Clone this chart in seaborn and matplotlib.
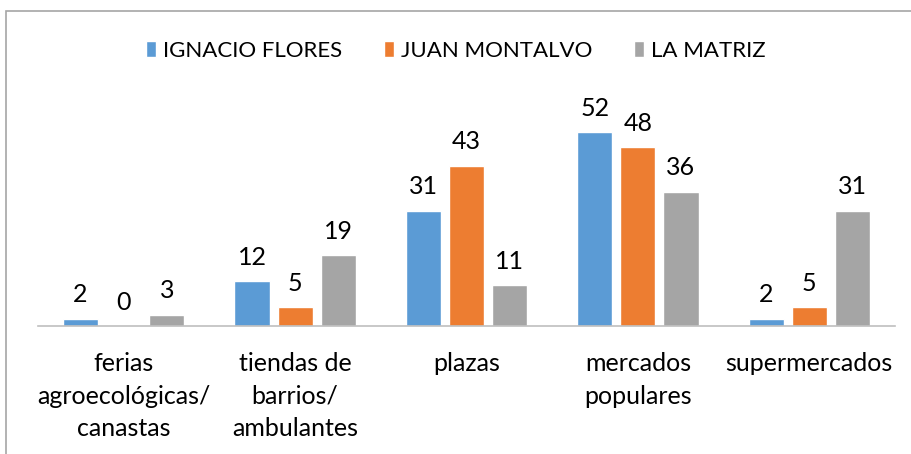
import pandas as pd
import matplotlib
matplotlib.use("Agg")
import matplotlib.pyplot as plt
import seaborn as sns
from matplotlib.patches import Rectangle

# datos
categorias = ["ferias\nagroecológicas/\ncanastas", "tiendas de\nbarrios/\nambulantes",
              "plazas", "mercados\npopulares", "supermercados"]
ignacio_flores = [2, 12, 31, 52, 2]
juan_montalvo = [0, 5, 43, 48, 5]
la_matriz = [3, 19, 11, 36, 31]
series = ["IGNACIO FLORES", "JUAN MONTALVO", "LA MATRIZ"]
colores = ["#5B9BD5", "#ED7D31", "#A5A5A5"]

df = pd.DataFrame({
    "categoria": categorias * 3,
    "serie": [s for s in series for _ in categorias],
    "valor": ignacio_flores + juan_montalvo + la_matriz,
})

sns.set_theme(style="white")
plt.rcParams['font.family'] = ['Lato', 'DejaVu Sans']

fig = plt.figure(figsize=(9.12, 4.54), dpi=100)
ax = fig.add_axes([38 / 912, 1 - 326 / 454, (895 - 38) / 912, (326 - 95) / 454])

sns.barplot(data=df, x="categoria", y="valor", hue="serie", palette=colores,
            width=0.754, gap=0.186, ax=ax, saturation=1)

for cont in ax.containers:
    ax.bar_label(cont, padding=9, fontsize=18, color="#000000")

ax.set_ylim(0, 62)
ax.set_xlabel("")
ax.set_ylabel("")
ax.set_yticks([])
ax.tick_params(axis="x", length=0, pad=19, labelsize=18, labelcolor="#000000")
for lab in ax.get_xticklabels():
    lab.set_linespacing(1.5)
for s in ["top", "right", "left"]:
    ax.spines[s].set_visible(False)
ax.spines["bottom"].set_color("#BFBFBF")
ax.spines["bottom"].set_linewidth(1.2)

leg = ax.legend(loc="center", bbox_to_anchor=(0.5, (454 - 51) / 454), bbox_transform=fig.transFigure,
                ncol=3, frameon=False, fontsize=16, handlelength=0.45, handleheight=0.7,
                handletextpad=0.3, columnspacing=1.9)
for t in leg.get_texts():
    t.set_color("#000000")

# marco del gráfico
fig.patches.append(Rectangle((6 / 912, -0.1), 1.2, 1 - 11 / 454 + 0.1, transform=fig.transFigure,
                             fill=False, edgecolor="#A6A6A6", linewidth=1.2))

fig.savefig("out.png", dpi=100)
